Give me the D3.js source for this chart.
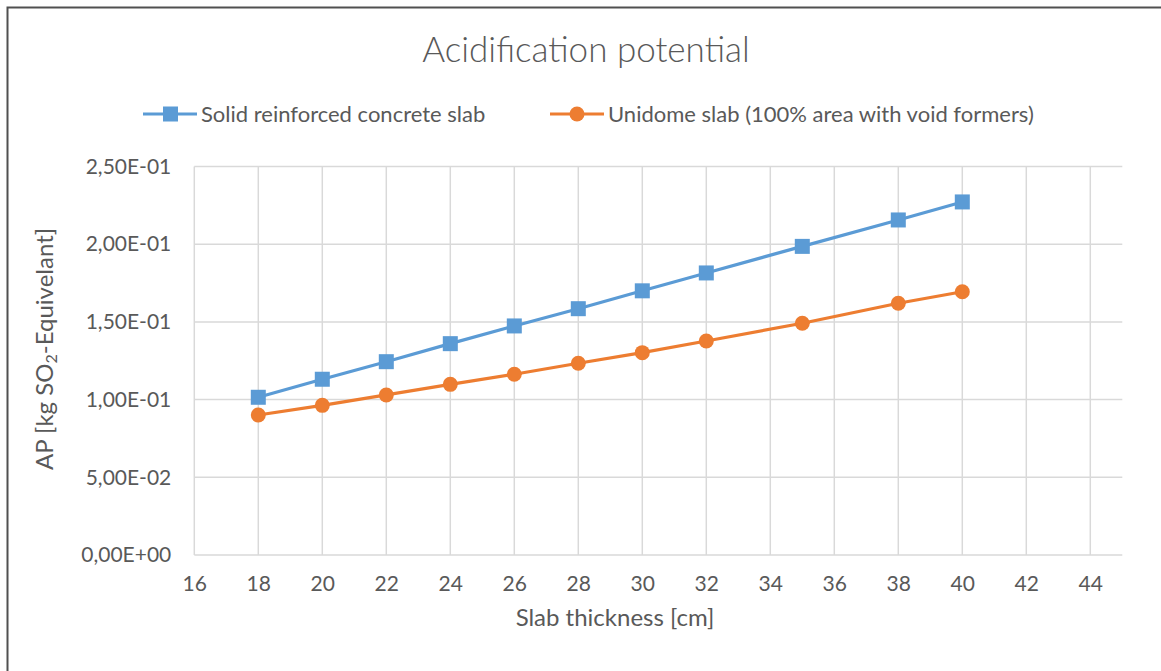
<!DOCTYPE html>
<html>
<head>
<meta charset="utf-8">
<script src="https://cdn.jsdelivr.net/npm/d3@7"></script>
<style>
  html, body { margin: 0; padding: 0; background: #fff; }
  svg { display: block; }
  text { font-family: Lato, "Open Sans", sans-serif; fill: #595959; }
</style>
</head>
<body>
<svg id="chart" width="1161" height="671"></svg>
<script>
// Slab thickness in cm
const thickness = [18, 20, 22, 24, 26, 28, 30, 32, 35, 38, 40];
// Acidification potential, kg SO2-equivalent
const solidSlab   = [0.1015, 0.1131, 0.1244, 0.1360, 0.1474, 0.1585, 0.1700, 0.1815, 0.1986, 0.2156, 0.2272];
const unidomeSlab = [0.0901, 0.0963, 0.1030, 0.1098, 0.1163, 0.1234, 0.1302, 0.1377, 0.1491, 0.1620, 0.1694];
const xTicks = [16, 18, 20, 22, 24, 26, 28, 30, 32, 34, 36, 38, 40, 42, 44];
const yTicks = [0, 0.05, 0.10, 0.15, 0.20, 0.25];
const seriesNames = ["Solid reinforced concrete slab", "Unidome slab (100% area with void formers)"];
const colors = ["#5b9bd5", "#ed7d31"];

const svg = d3.select("#chart");

// chart frame (top and left edges)
svg.append("path")
  .attr("d", "M7.5,671 V7.5 H1161")
  .attr("fill", "none")
  .attr("stroke", "#505050")
  .attr("stroke-width", 2);

const x = d3.scaleLinear().domain([16, 45]).range([194.3, 1122.3]);
const y = d3.scaleLinear().domain([0, 0.25]).range([555, 166.5]);

// gridlines
const grid = svg.append("g").attr("stroke", "#d9d9d9").attr("stroke-width", 1.5);
grid.selectAll(".vg").data(xTicks).join("line")
  .attr("x1", d => x(d)).attr("x2", d => x(d))
  .attr("y1", y(0.25)).attr("y2", y(0));
grid.selectAll(".hg").data(yTicks).join("line")
  .attr("x1", x(16)).attr("x2", x(45))
  .attr("y1", d => y(d)).attr("y2", d => y(d));

// axes (tick labels only)
const fmtY = d => d3.format(".2e")(d).replace(".", ",").replace(/e([+-])(\d)$/, "E$10$2").replace(/e([+-])(\d\d)$/, "E$1$2");
const yAxis = svg.append("g").attr("transform", `translate(${x(16)},0)`)
  .call(d3.axisLeft(y).tickValues(yTicks).tickSize(0).tickPadding(23).tickFormat(fmtY));
yAxis.select(".domain").remove();
yAxis.selectAll("text").style("font-size", "21px").attr("fill", "#595959").attr("font-family", null);

const xAxis = svg.append("g").attr("transform", `translate(0,${y(0)})`)
  .call(d3.axisBottom(x).tickValues(xTicks).tickSize(0).tickPadding(21).tickFormat(d3.format("d")));
xAxis.select(".domain").remove();
xAxis.selectAll("text").style("font-size", "21px").attr("fill", "#595959").attr("font-family", null);

// titles
svg.append("text")
  .attr("x", 586).attr("y", 62)
  .attr("text-anchor", "middle")
  .style("font-size", "35px").style("font-weight", 300)
  .text("Acidification potential");

svg.append("text")
  .attr("x", 615).attr("y", 626)
  .attr("text-anchor", "middle")
  .style("font-size", "24px")
  .text("Slab thickness [cm]");

const yTitle = svg.append("text")
  .attr("transform", "translate(53,349) rotate(-90)")
  .attr("text-anchor", "middle")
  .style("font-size", "24px");
yTitle.append("tspan").text("AP [kg SO");
yTitle.append("tspan").attr("baseline-shift", "-25%").style("font-size", "16px").text("2");
yTitle.append("tspan").text("-Equivelant]");

// series
const series = [solidSlab, unidomeSlab];
const line = d3.line().x((d, i) => x(thickness[i])).y(d => y(d));

series.forEach((vals, s) => {
  const g = svg.append("g");
  g.append("path").datum(vals)
    .attr("d", line)
    .attr("fill", "none")
    .attr("stroke", colors[s])
    .attr("stroke-width", 3.2)
    .attr("stroke-linejoin", "round");
  if (s === 0) {
    g.selectAll("rect").data(vals).join("rect")
      .attr("x", (d, i) => x(thickness[i]) - 7.5)
      .attr("y", d => y(d) - 7.5)
      .attr("width", 15).attr("height", 15)
      .attr("fill", colors[s]);
  } else {
    g.selectAll("circle").data(vals).join("circle")
      .attr("cx", (d, i) => x(thickness[i]))
      .attr("cy", d => y(d))
      .attr("r", 7.5)
      .attr("fill", colors[s]);
  }
});

// legend
const legendPos = [143, 550];
seriesNames.forEach((name, s) => {
  const g = svg.append("g").attr("transform", `translate(${legendPos[s]},114)`);
  g.append("line").attr("x1", 0).attr("x2", 54).attr("y1", 0).attr("y2", 0)
    .attr("stroke", colors[s]).attr("stroke-width", 3.2);
  if (s === 0) {
    g.append("rect").attr("x", 20).attr("y", -7.5).attr("width", 15).attr("height", 15).attr("fill", colors[s]);
  } else {
    g.append("circle").attr("cx", 27).attr("cy", 0).attr("r", 7.5).attr("fill", colors[s]);
  }
  g.append("text").attr("x", 58).attr("y", 8).style("font-size", "22px").text(name);
});
</script>
</body>
</html>
